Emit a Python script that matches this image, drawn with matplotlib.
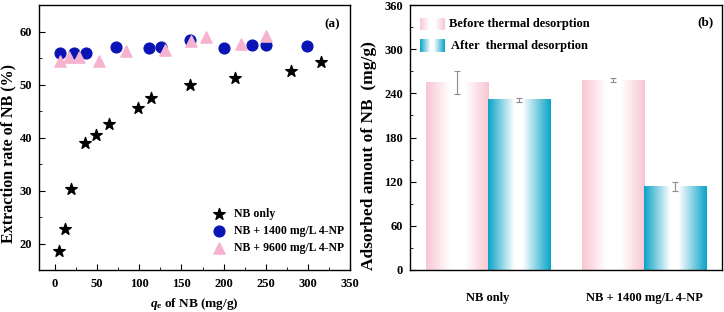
import numpy as np
import matplotlib
matplotlib.use("Agg")
import matplotlib.pyplot as plt
from matplotlib.colors import LinearSegmentedColormap
from matplotlib.ticker import MultipleLocator

plt.rcParams['font.family'] = ['Liberation Serif', 'DejaVu Serif']
plt.rcParams['font.weight'] = 'bold'
plt.rcParams['mathtext.fontset'] = 'custom'
plt.rcParams['mathtext.rm'] = 'Liberation Serif:bold'
plt.rcParams['mathtext.it'] = 'Liberation Serif:italic:bold'
plt.rcParams['mathtext.bf'] = 'Liberation Serif:bold'

# ---- panel (a) data ----
nb_only_x = [5, 12, 19, 36, 49, 64, 99, 114, 160, 214, 280, 315]
nb_only_y = [18.6, 22.8, 30.3, 38.9, 40.4, 42.5, 45.6, 47.4, 50.0, 51.3, 52.5, 54.3]
nb1400_x = [6, 22, 37, 72, 111, 126, 160, 200, 234, 250, 299]
nb1400_y = [56.0, 56.0, 56.0, 57.0, 56.9, 57.0, 58.4, 56.9, 57.5, 57.4, 57.2]
nb9600_x = [6, 17, 28, 52, 84, 130, 161, 179, 221, 250]
nb9600_y = [54.5, 55.2, 55.2, 54.5, 56.4, 56.6, 58.2, 59.0, 57.7, 59.2]

# ---- panel (b) data ----
groups = ['NB only', 'NB + 1400 mg/L 4-NP']
before_vals = [255, 258]
before_err = [16, 3]
after_vals = [231, 113]
after_err = [3, 6]

W, H = 724, 312
fig = plt.figure(figsize=(W / 100, H / 100), dpi=100)

axa = fig.add_axes([39 / W, 1 - 270 / H, 311 / W, 265 / H])
axb = fig.add_axes([410 / W, 1 - 270 / H, 312 / W, 265 / H])

fs = 9
# ---- (a) ----
axa.scatter(nb_only_x, nb_only_y, marker='*', s=75, color='black', label='NB only', zorder=3)
axa.scatter(nb1400_x, nb1400_y, marker='o', s=60, color='#0a14b4', label='NB + 1400 mg/L 4-NP', zorder=3)
axa.scatter(nb9600_x, nb9600_y, marker='^', s=65, color='#f5b3d0', label='NB + 9600 mg/L 4-NP', zorder=4)
axa.set_xlim(-19, 350)
axa.set_ylim(15, 65)
axa.xaxis.set_major_locator(MultipleLocator(50))
axa.xaxis.set_minor_locator(MultipleLocator(25))
axa.yaxis.set_major_locator(MultipleLocator(10))
axa.yaxis.set_minor_locator(MultipleLocator(5))
axa.tick_params(which='both', direction='in', labelsize=fs)
axa.tick_params(which='major', length=4)
axa.tick_params(which='minor', length=2)
axa.tick_params(axis='y', pad=5)
axa.tick_params(axis='x', pad=6)
axa.set_xlabel(r'$q_\mathrm{e}$ of NB (mg/g)', fontsize=9.5, fontweight='bold', labelpad=4)
axa.set_ylabel('Extraction rate of NB (%)', fontsize=11.5, fontweight='bold')
axa.yaxis.set_label_coords(-0.074, 0.44)
axa.text(0.942, 0.928, '(a)', transform=axa.transAxes, ha='center', va='center', fontsize=9.5, fontweight='bold')
axa.legend(loc='upper left', bbox_to_anchor=(0.56, 0.235), frameon=False,
           borderpad=0, borderaxespad=0, handlelength=1.0, handletextpad=0.8, labelspacing=0.45,
           prop={'weight': 'bold', 'size': 8.5})

# ---- (b) ----
pink = '#f8c6d2'
blue = '#0aa3c8'
cm_pink = LinearSegmentedColormap.from_list('p', [(0, pink), (0.38, 'white'), (0.62, 'white'), (1, pink)])
cm_blue = LinearSegmentedColormap.from_list('b', [(0, blue), (0.42, 'white'), (0.55, 'white'), (1, blue)])
grad = np.linspace(0, 1, 256).reshape(1, -1)
bw = 0.4
xc = np.arange(len(groups))
for i, g in enumerate(groups):
    x0 = xc[i] - bw
    axb.imshow(grad, extent=[x0, x0 + bw, 0, before_vals[i]], cmap=cm_pink, aspect='auto', zorder=2)
    axb.imshow(grad, extent=[x0 + bw, x0 + 2 * bw, 0, after_vals[i]], cmap=cm_blue, aspect='auto', zorder=2)
axb.errorbar(xc - bw / 2, before_vals, yerr=before_err, fmt='none', ecolor='#8c8c8c', elinewidth=0.8, capsize=2, capthick=0.8, zorder=3)
axb.errorbar(xc + bw / 2, after_vals, yerr=after_err, fmt='none', ecolor='#8c8c8c', elinewidth=0.8, capsize=2, capthick=0.8, zorder=3)
axb.set_xticks(xc)
axb.set_xticklabels(groups, fontsize=fs, fontweight='bold')
axb.yaxis.set_major_locator(MultipleLocator(60))
axb.yaxis.set_minor_locator(MultipleLocator(30))
axb.tick_params(axis='y', which='both', direction='in', labelsize=fs, pad=5)
axb.tick_params(axis='y', which='major', length=4)
axb.tick_params(axis='y', which='minor', length=2)
axb.tick_params(axis='x', length=0, pad=16)
axb.set_ylabel('Adsorbed amout of NB  (mg/g)', fontsize=12.5, fontweight='bold')
axb.yaxis.set_label_coords(-0.105, 0.43)
axb.text(0.946, 0.936, '(b)', transform=axb.transAxes, ha='center', va='center', fontsize=9.5, fontweight='bold')

# legend swatches (b)
axb.imshow(grad, extent=[0.032, 0.109, 0.906, 0.951], transform=axb.transAxes, cmap=cm_pink, aspect='auto', zorder=4)
axb.imshow(grad, extent=[0.032, 0.109, 0.823, 0.872], transform=axb.transAxes, cmap=cm_blue, aspect='auto', zorder=4)
axb.text(0.126, 0.928, 'Before thermal desorption', transform=axb.transAxes, ha='left', va='center', fontsize=9, fontweight='bold')
axb.text(0.133, 0.847, 'After  thermal desorption', transform=axb.transAxes, ha='left', va='center', fontsize=9, fontweight='bold')
axb.set_xlim(-0.5, 1.5)
axb.set_ylim(0, 360)

for ax in (axa, axb):
    for s in ax.spines.values():
        s.set_linewidth(1.0)

fig.savefig('out.png', dpi=100)
